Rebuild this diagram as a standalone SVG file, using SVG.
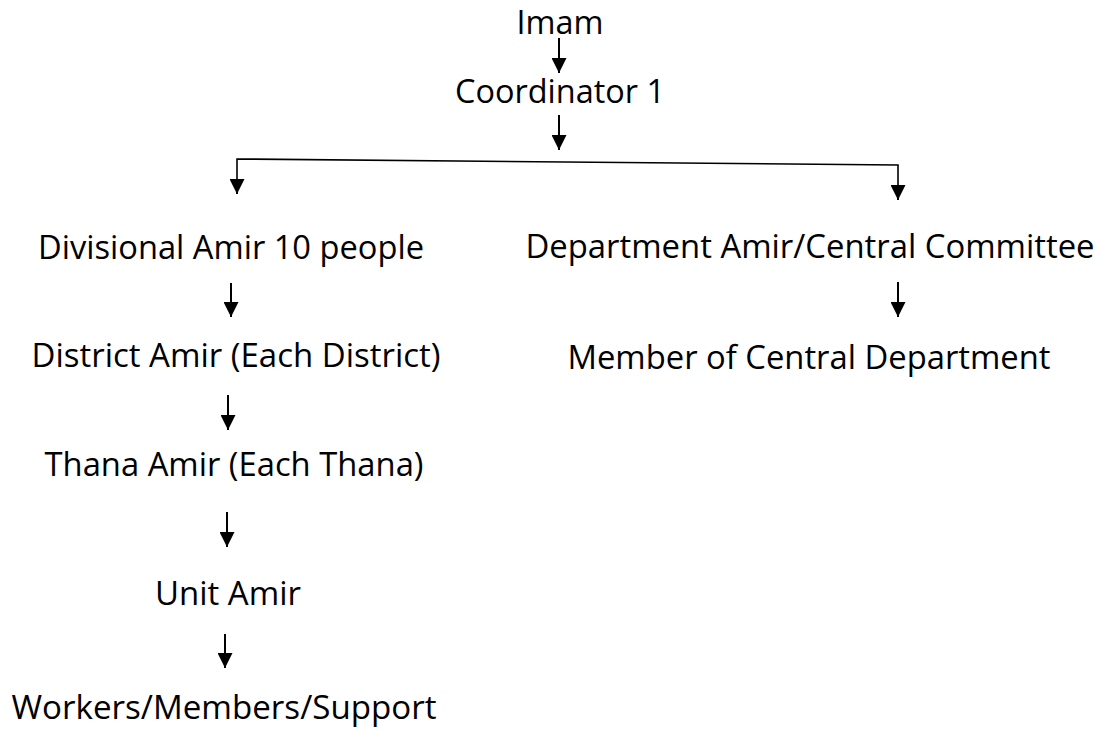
<svg xmlns="http://www.w3.org/2000/svg" width="1107" height="735" viewBox="0 0 1107 735">
<style>
.t{font-family:"Open Sans","Noto Sans","DejaVu Sans",sans-serif;font-size:33.5px;fill:#000}
.c{fill:none;stroke:#000;stroke-width:2}
.h{fill:none;stroke:#000;stroke-width:1.6}
</style>
<defs>
<marker id="ah" viewBox="0 0 15 15" refX="15" refY="7.5" markerWidth="15" markerHeight="15" markerUnits="userSpaceOnUse" orient="auto">
<path d="M0,0 L15,7.5 L0,15 Z" fill="#000"/>
</marker>
</defs>
<rect width="1107" height="735" fill="#fff"/>
<g id="connectors">
<line class="c" x1="559" y1="38" x2="559" y2="73" marker-end="url(#ah)"/>
<line class="c" x1="559" y1="115" x2="559" y2="150" marker-end="url(#ah)"/>
<polyline class="h" points="237,186 237,159 898,165 898,192"/>
<line class="c" x1="237" y1="180" x2="237" y2="194" marker-end="url(#ah)"/>
<line class="c" x1="898" y1="186" x2="898" y2="200" marker-end="url(#ah)"/>
<line class="c" x1="231" y1="283" x2="231" y2="317" marker-end="url(#ah)"/>
<line class="c" x1="898" y1="282" x2="898" y2="317" marker-end="url(#ah)"/>
<line class="c" x1="228" y1="395" x2="228" y2="430" marker-end="url(#ah)"/>
<line class="c" x1="227" y1="512" x2="227" y2="547" marker-end="url(#ah)"/>
<line class="c" x1="225" y1="634" x2="225" y2="668" marker-end="url(#ah)"/>
</g>
<g id="imam"><text class="t" x="516.5" y="34" textLength="87" lengthAdjust="spacingAndGlyphs">Imam</text></g>
<g id="coordinator"><text class="t" x="455" y="103" textLength="210" lengthAdjust="spacingAndGlyphs">Coordinator 1</text></g>
<g id="divisional"><text class="t" x="38" y="259" textLength="386" lengthAdjust="spacingAndGlyphs">Divisional Amir 10 people</text></g>
<g id="department"><text class="t" x="525.5" y="258" textLength="569" lengthAdjust="spacingAndGlyphs">Department Amir/Central Committee</text></g>
<g id="district"><text class="t" x="31.5" y="367" textLength="409" lengthAdjust="spacingAndGlyphs">District Amir (Each District)</text></g>
<g id="member"><text class="t" x="567.5" y="369" textLength="483" lengthAdjust="spacingAndGlyphs">Member of Central Department</text></g>
<g id="thana"><text class="t" x="44.5" y="476" textLength="379" lengthAdjust="spacingAndGlyphs">Thana Amir (Each Thana)</text></g>
<g id="unit"><text class="t" x="155" y="605" textLength="146" lengthAdjust="spacingAndGlyphs">Unit Amir</text></g>
<g id="workers"><text class="t" x="11.5" y="719" textLength="425" lengthAdjust="spacingAndGlyphs">Workers/Members/Support</text></g>
</svg>
